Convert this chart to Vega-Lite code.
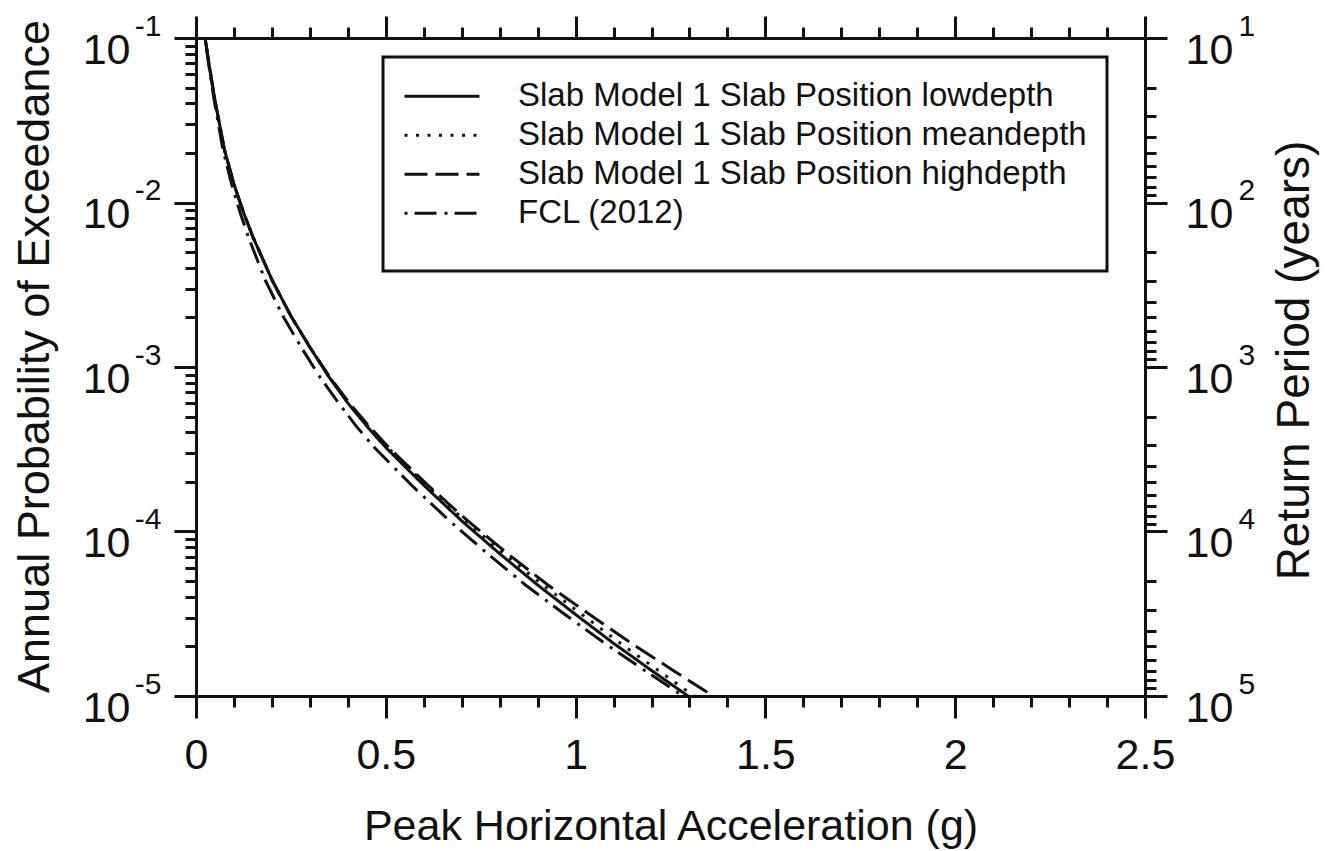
{
  "$schema": "https://vega.github.io/schema/vega-lite/v6.json",
  "autosize": {"type": "none"},
  "padding": {"left": 196, "top": 38, "right": 192, "bottom": 155},
  "width": 949,
  "height": 658,
  "background": "white",
  "config": {
    "view": {"stroke": null},
    "font": "Liberation Sans",
    "axis": {"grid": false, "domainColor": "#111", "domainWidth": 3, "tickColor": "#111", "tickWidth": 3, "labelColor": "#111", "labelFont": "Liberation Sans", "titleFont": "Liberation Sans", "titleColor": "#111", "titleFontWeight": "normal", "labelFlush": false, "labelOverlap": false},
    "legend": {"strokeWidth": 3}
  },
  "data": {"values": [
    {"series": "Slab Model 1 Slab Position lowdepth", "pga": 0.024, "p": 0.1},
    {"series": "Slab Model 1 Slab Position lowdepth", "pga": 0.035, "p": 0.0676},
    {"series": "Slab Model 1 Slab Position lowdepth", "pga": 0.05, "p": 0.0417},
    {"series": "Slab Model 1 Slab Position lowdepth", "pga": 0.075, "p": 0.0209},
    {"series": "Slab Model 1 Slab Position lowdepth", "pga": 0.1, "p": 0.0129},
    {"series": "Slab Model 1 Slab Position lowdepth", "pga": 0.125, "p": 0.00871},
    {"series": "Slab Model 1 Slab Position lowdepth", "pga": 0.15, "p": 0.00617},
    {"series": "Slab Model 1 Slab Position lowdepth", "pga": 0.2, "p": 0.00339},
    {"series": "Slab Model 1 Slab Position lowdepth", "pga": 0.25, "p": 0.00204},
    {"series": "Slab Model 1 Slab Position lowdepth", "pga": 0.3, "p": 0.00132},
    {"series": "Slab Model 1 Slab Position lowdepth", "pga": 0.35, "p": 0.000871},
    {"series": "Slab Model 1 Slab Position lowdepth", "pga": 0.4, "p": 0.000603},
    {"series": "Slab Model 1 Slab Position lowdepth", "pga": 0.45, "p": 0.000437},
    {"series": "Slab Model 1 Slab Position lowdepth", "pga": 0.5, "p": 0.000324},
    {"series": "Slab Model 1 Slab Position lowdepth", "pga": 0.6, "p": 0.000191},
    {"series": "Slab Model 1 Slab Position lowdepth", "pga": 0.7, "p": 0.000116},
    {"series": "Slab Model 1 Slab Position lowdepth", "pga": 0.8, "p": 0.0000733},
    {"series": "Slab Model 1 Slab Position lowdepth", "pga": 0.9, "p": 0.0000473},
    {"series": "Slab Model 1 Slab Position lowdepth", "pga": 1.0, "p": 0.0000313},
    {"series": "Slab Model 1 Slab Position lowdepth", "pga": 1.1, "p": 0.0000209},
    {"series": "Slab Model 1 Slab Position lowdepth", "pga": 1.2, "p": 0.0000143},
    {"series": "Slab Model 1 Slab Position lowdepth", "pga": 1.296, "p": 0.00001},
    {"series": "Slab Model 1 Slab Position meandepth", "pga": 0.024, "p": 0.1},
    {"series": "Slab Model 1 Slab Position meandepth", "pga": 0.035, "p": 0.0676},
    {"series": "Slab Model 1 Slab Position meandepth", "pga": 0.05, "p": 0.0417},
    {"series": "Slab Model 1 Slab Position meandepth", "pga": 0.075, "p": 0.0209},
    {"series": "Slab Model 1 Slab Position meandepth", "pga": 0.1, "p": 0.0129},
    {"series": "Slab Model 1 Slab Position meandepth", "pga": 0.125, "p": 0.00871},
    {"series": "Slab Model 1 Slab Position meandepth", "pga": 0.15, "p": 0.00617},
    {"series": "Slab Model 1 Slab Position meandepth", "pga": 0.2, "p": 0.00339},
    {"series": "Slab Model 1 Slab Position meandepth", "pga": 0.25, "p": 0.00204},
    {"series": "Slab Model 1 Slab Position meandepth", "pga": 0.3, "p": 0.00132},
    {"series": "Slab Model 1 Slab Position meandepth", "pga": 0.351, "p": 0.000871},
    {"series": "Slab Model 1 Slab Position meandepth", "pga": 0.402, "p": 0.000603},
    {"series": "Slab Model 1 Slab Position meandepth", "pga": 0.453, "p": 0.000437},
    {"series": "Slab Model 1 Slab Position meandepth", "pga": 0.505, "p": 0.000324},
    {"series": "Slab Model 1 Slab Position meandepth", "pga": 0.607, "p": 0.000191},
    {"series": "Slab Model 1 Slab Position meandepth", "pga": 0.709, "p": 0.000116},
    {"series": "Slab Model 1 Slab Position meandepth", "pga": 0.812, "p": 0.0000733},
    {"series": "Slab Model 1 Slab Position meandepth", "pga": 0.914, "p": 0.0000473},
    {"series": "Slab Model 1 Slab Position meandepth", "pga": 1.017, "p": 0.0000313},
    {"series": "Slab Model 1 Slab Position meandepth", "pga": 1.118, "p": 0.0000209},
    {"series": "Slab Model 1 Slab Position meandepth", "pga": 1.218, "p": 0.0000143},
    {"series": "Slab Model 1 Slab Position meandepth", "pga": 1.312, "p": 0.00001},
    {"series": "Slab Model 1 Slab Position highdepth", "pga": 0.024, "p": 0.1},
    {"series": "Slab Model 1 Slab Position highdepth", "pga": 0.035, "p": 0.0676},
    {"series": "Slab Model 1 Slab Position highdepth", "pga": 0.05, "p": 0.0417},
    {"series": "Slab Model 1 Slab Position highdepth", "pga": 0.075, "p": 0.0209},
    {"series": "Slab Model 1 Slab Position highdepth", "pga": 0.1, "p": 0.0129},
    {"series": "Slab Model 1 Slab Position highdepth", "pga": 0.125, "p": 0.00871},
    {"series": "Slab Model 1 Slab Position highdepth", "pga": 0.15, "p": 0.00617},
    {"series": "Slab Model 1 Slab Position highdepth", "pga": 0.2, "p": 0.00339},
    {"series": "Slab Model 1 Slab Position highdepth", "pga": 0.25, "p": 0.00204},
    {"series": "Slab Model 1 Slab Position highdepth", "pga": 0.3, "p": 0.00132},
    {"series": "Slab Model 1 Slab Position highdepth", "pga": 0.352, "p": 0.000871},
    {"series": "Slab Model 1 Slab Position highdepth", "pga": 0.404, "p": 0.000603},
    {"series": "Slab Model 1 Slab Position highdepth", "pga": 0.456, "p": 0.000437},
    {"series": "Slab Model 1 Slab Position highdepth", "pga": 0.508, "p": 0.000324},
    {"series": "Slab Model 1 Slab Position highdepth", "pga": 0.611, "p": 0.000191},
    {"series": "Slab Model 1 Slab Position highdepth", "pga": 0.716, "p": 0.000116},
    {"series": "Slab Model 1 Slab Position highdepth", "pga": 0.821, "p": 0.0000733},
    {"series": "Slab Model 1 Slab Position highdepth", "pga": 0.927, "p": 0.0000473},
    {"series": "Slab Model 1 Slab Position highdepth", "pga": 1.037, "p": 0.0000313},
    {"series": "Slab Model 1 Slab Position highdepth", "pga": 1.147, "p": 0.0000209},
    {"series": "Slab Model 1 Slab Position highdepth", "pga": 1.257, "p": 0.0000143},
    {"series": "Slab Model 1 Slab Position highdepth", "pga": 1.362, "p": 0.00001},
    {"series": "FCL (2012)", "pga": 0.024, "p": 0.1},
    {"series": "FCL (2012)", "pga": 0.034, "p": 0.0676},
    {"series": "FCL (2012)", "pga": 0.048, "p": 0.0417},
    {"series": "FCL (2012)", "pga": 0.071, "p": 0.0209},
    {"series": "FCL (2012)", "pga": 0.094, "p": 0.0129},
    {"series": "FCL (2012)", "pga": 0.116, "p": 0.00871},
    {"series": "FCL (2012)", "pga": 0.138, "p": 0.00617},
    {"series": "FCL (2012)", "pga": 0.182, "p": 0.00339},
    {"series": "FCL (2012)", "pga": 0.229, "p": 0.00204},
    {"series": "FCL (2012)", "pga": 0.277, "p": 0.00132},
    {"series": "FCL (2012)", "pga": 0.326, "p": 0.000871},
    {"series": "FCL (2012)", "pga": 0.376, "p": 0.000603},
    {"series": "FCL (2012)", "pga": 0.422, "p": 0.000437},
    {"series": "FCL (2012)", "pga": 0.47, "p": 0.000324},
    {"series": "FCL (2012)", "pga": 0.568, "p": 0.000191},
    {"series": "FCL (2012)", "pga": 0.668, "p": 0.000116},
    {"series": "FCL (2012)", "pga": 0.768, "p": 0.0000733},
    {"series": "FCL (2012)", "pga": 0.868, "p": 0.0000473},
    {"series": "FCL (2012)", "pga": 0.972, "p": 0.0000313},
    {"series": "FCL (2012)", "pga": 1.077, "p": 0.0000209},
    {"series": "FCL (2012)", "pga": 1.182, "p": 0.0000143},
    {"series": "FCL (2012)", "pga": 1.283, "p": 0.00001}
  ]},
  "resolve": {"axis": {"x": "independent", "y": "independent"}},
  "layer": [
    {
      "mark": {"type": "line", "strokeWidth": 3, "color": "#111", "clip": true},
      "encoding": {
        "x": {"field": "pga", "type": "quantitative", "scale": {"domain": [0, 2.5], "nice": false, "zero": false},
          "axis": {"orient": "bottom", "values": [0, 0.5, 1, 1.5, 2, 2.5], "format": "~g", "tickSize": 22, "labelFontSize": 43, "labelPadding": 16,
            "title": "Peak Horizontal Acceleration (g)", "titleFontSize": 43, "titleX": 474.5, "titleY": 143, "titleBaseline": "alphabetic", "titleAlign": "center"}},
        "y": {"field": "p", "type": "quantitative", "scale": {"type": "log", "domain": [0.00001, 0.1], "nice": false},
          "axis": {"orient": "left", "values": [0.00001, 0.0001, 0.001, 0.01, 0.1], "tickSize": 22, "labelExpr": "'10'", "labelFontSize": 43, "labelPadding": 44, "labelOffset": 12,
            "title": "Annual Probability of Exceedance", "titleFontSize": 45, "titleAngle": 270, "titleX": -148, "titleY": 318, "titleBaseline": "alphabetic", "titleAlign": "center"}},
        "strokeDash": {"field": "series", "type": "nominal",
          "scale": {"domain": ["Slab Model 1 Slab Position lowdepth", "Slab Model 1 Slab Position meandepth", "Slab Model 1 Slab Position highdepth", "FCL (2012)"],
            "range": [[1, 0], [3, 8.5], [23, 8], [3, 7, 22, 8]]},
          "legend": {"title": " ", "titleOrient": "bottom", "titleFontSize": 14, "titlePadding": 4, "orient": "none", "legendX": 187, "legendY": 19, "padding": 20, "strokeColor": "#111",
            "symbolType": "stroke", "symbolSize": 5625, "symbolStrokeWidth": 3, "symbolStrokeColor": "#111",
            "labelFontSize": 33, "labelFont": "Liberation Sans", "labelColor": "#111", "labelOffset": 37, "clipHeight": 38.5, "rowPadding": 0, "labelLimit": 900}}
      }
    },
    {
      "mark": {"type": "point", "opacity": 0},
      "encoding": {
        "x": {"field": "pga", "type": "quantitative", "scale": {"domain": [0, 2.5], "nice": false, "zero": false},
          "axis": {"orient": "bottom", "values": [0.1, 0.2, 0.3, 0.4, 0.6, 0.7, 0.8, 0.9, 1.1, 1.2, 1.3, 1.4, 1.6, 1.7, 1.8, 1.9, 2.1, 2.2, 2.3, 2.4], "tickSize": 11, "labels": false, "domain": false, "title": null}},
        "y": {"field": "p", "type": "quantitative", "scale": {"type": "log", "domain": [0.00001, 0.1], "nice": false},
          "axis": {"orient": "left", "values": [0.09, 0.08, 0.07, 0.06, 0.05, 0.04, 0.03, 0.02, 0.009, 0.008, 0.007, 0.006, 0.005, 0.004, 0.003, 0.002, 0.0009, 0.0008, 0.0007, 0.0006, 0.0005, 0.0004, 0.0003, 0.0002, 0.00009, 0.00008, 0.00007, 0.00006, 0.00005, 0.00004, 0.00003, 0.00002], "tickSize": 11, "labels": false, "domain": false, "title": null}}
      }
    },
    {
      "mark": {"type": "point", "opacity": 0},
      "encoding": {
        "x": {"field": "pga", "type": "quantitative", "scale": {"domain": [0, 2.5], "nice": false, "zero": false},
          "axis": {"orient": "top", "values": [0, 0.5, 1, 1.5, 2, 2.5], "tickSize": 22, "labels": false, "title": null}},
        "y": {"field": "p", "type": "quantitative", "scale": {"type": "log", "domain": [0.00001, 0.1], "nice": false},
          "axis": {"orient": "left", "values": [0.00001, 0.0001, 0.001, 0.01, 0.1], "ticks": false, "tickSize": 0, "domain": false, "labelExpr": "'' + round(log(datum.value) / LN10)", "labelFontSize": 30, "labelPadding": 35, "labelOffset": -12, "title": null}}
      }
    },
    {
      "mark": {"type": "point", "opacity": 0},
      "encoding": {
        "x": {"field": "pga", "type": "quantitative", "scale": {"domain": [0, 2.5], "nice": false, "zero": false},
          "axis": {"orient": "top", "values": [0.1, 0.2, 0.3, 0.4, 0.6, 0.7, 0.8, 0.9, 1.1, 1.2, 1.3, 1.4, 1.6, 1.7, 1.8, 1.9, 2.1, 2.2, 2.3, 2.4], "tickSize": 11, "labels": false, "domain": false, "title": null}},
        "y": {"field": "p", "type": "quantitative", "scale": {"type": "log", "domain": [0.00001, 0.1], "nice": false},
          "axis": {"orient": "right", "values": [0.00001, 0.0001, 0.001, 0.01, 0.1], "tickSize": 22, "labelExpr": "'10'", "labelFontSize": 43, "labelPadding": 18, "labelOffset": 12,
            "title": "Return Period (years)", "titleFontSize": 46, "titleAngle": 270, "titleX": 163, "titleY": 322, "titleBaseline": "alphabetic", "titleAlign": "center"}}
      }
    },
    {
      "mark": {"type": "point", "opacity": 0},
      "encoding": {
        "x": {"field": "pga", "type": "quantitative", "scale": {"domain": [0, 2.5], "nice": false, "zero": false}, "axis": null},
        "y": {"field": "p", "type": "quantitative", "scale": {"type": "log", "domain": [0.00001, 0.1], "nice": false},
          "axis": {"orient": "right", "values": [0.00001, 0.0001, 0.001, 0.01, 0.1], "ticks": false, "tickSize": 0, "domain": false, "labelExpr": "'' + round(-log(datum.value) / LN10)", "labelFontSize": 30, "labelPadding": 93, "labelOffset": -12, "title": null}}
      }
    },
    {
      "mark": {"type": "point", "opacity": 0},
      "encoding": {
        "x": {"field": "pga", "type": "quantitative", "scale": {"domain": [0, 2.5], "nice": false, "zero": false}, "axis": null},
        "y": {"field": "p", "type": "quantitative", "scale": {"type": "log", "domain": [0.00001, 0.1], "nice": false},
          "axis": {"orient": "right", "values": [0.05, 0.0333333, 0.025, 0.02, 0.0166667, 0.0142857, 0.0125, 0.0111111, 0.005, 0.00333333, 0.0025, 0.002, 0.00166667, 0.00142857, 0.00125, 0.00111111, 0.0005, 0.000333333, 0.00025, 0.0002, 0.000166667, 0.000142857, 0.000125, 0.000111111, 0.00005, 0.0000333333, 0.000025, 0.00002, 0.0000166667, 0.0000142857, 0.0000125, 0.0000111111], "tickSize": 11, "labels": false, "domain": false, "title": null}}
      }
    }
  ]
}
